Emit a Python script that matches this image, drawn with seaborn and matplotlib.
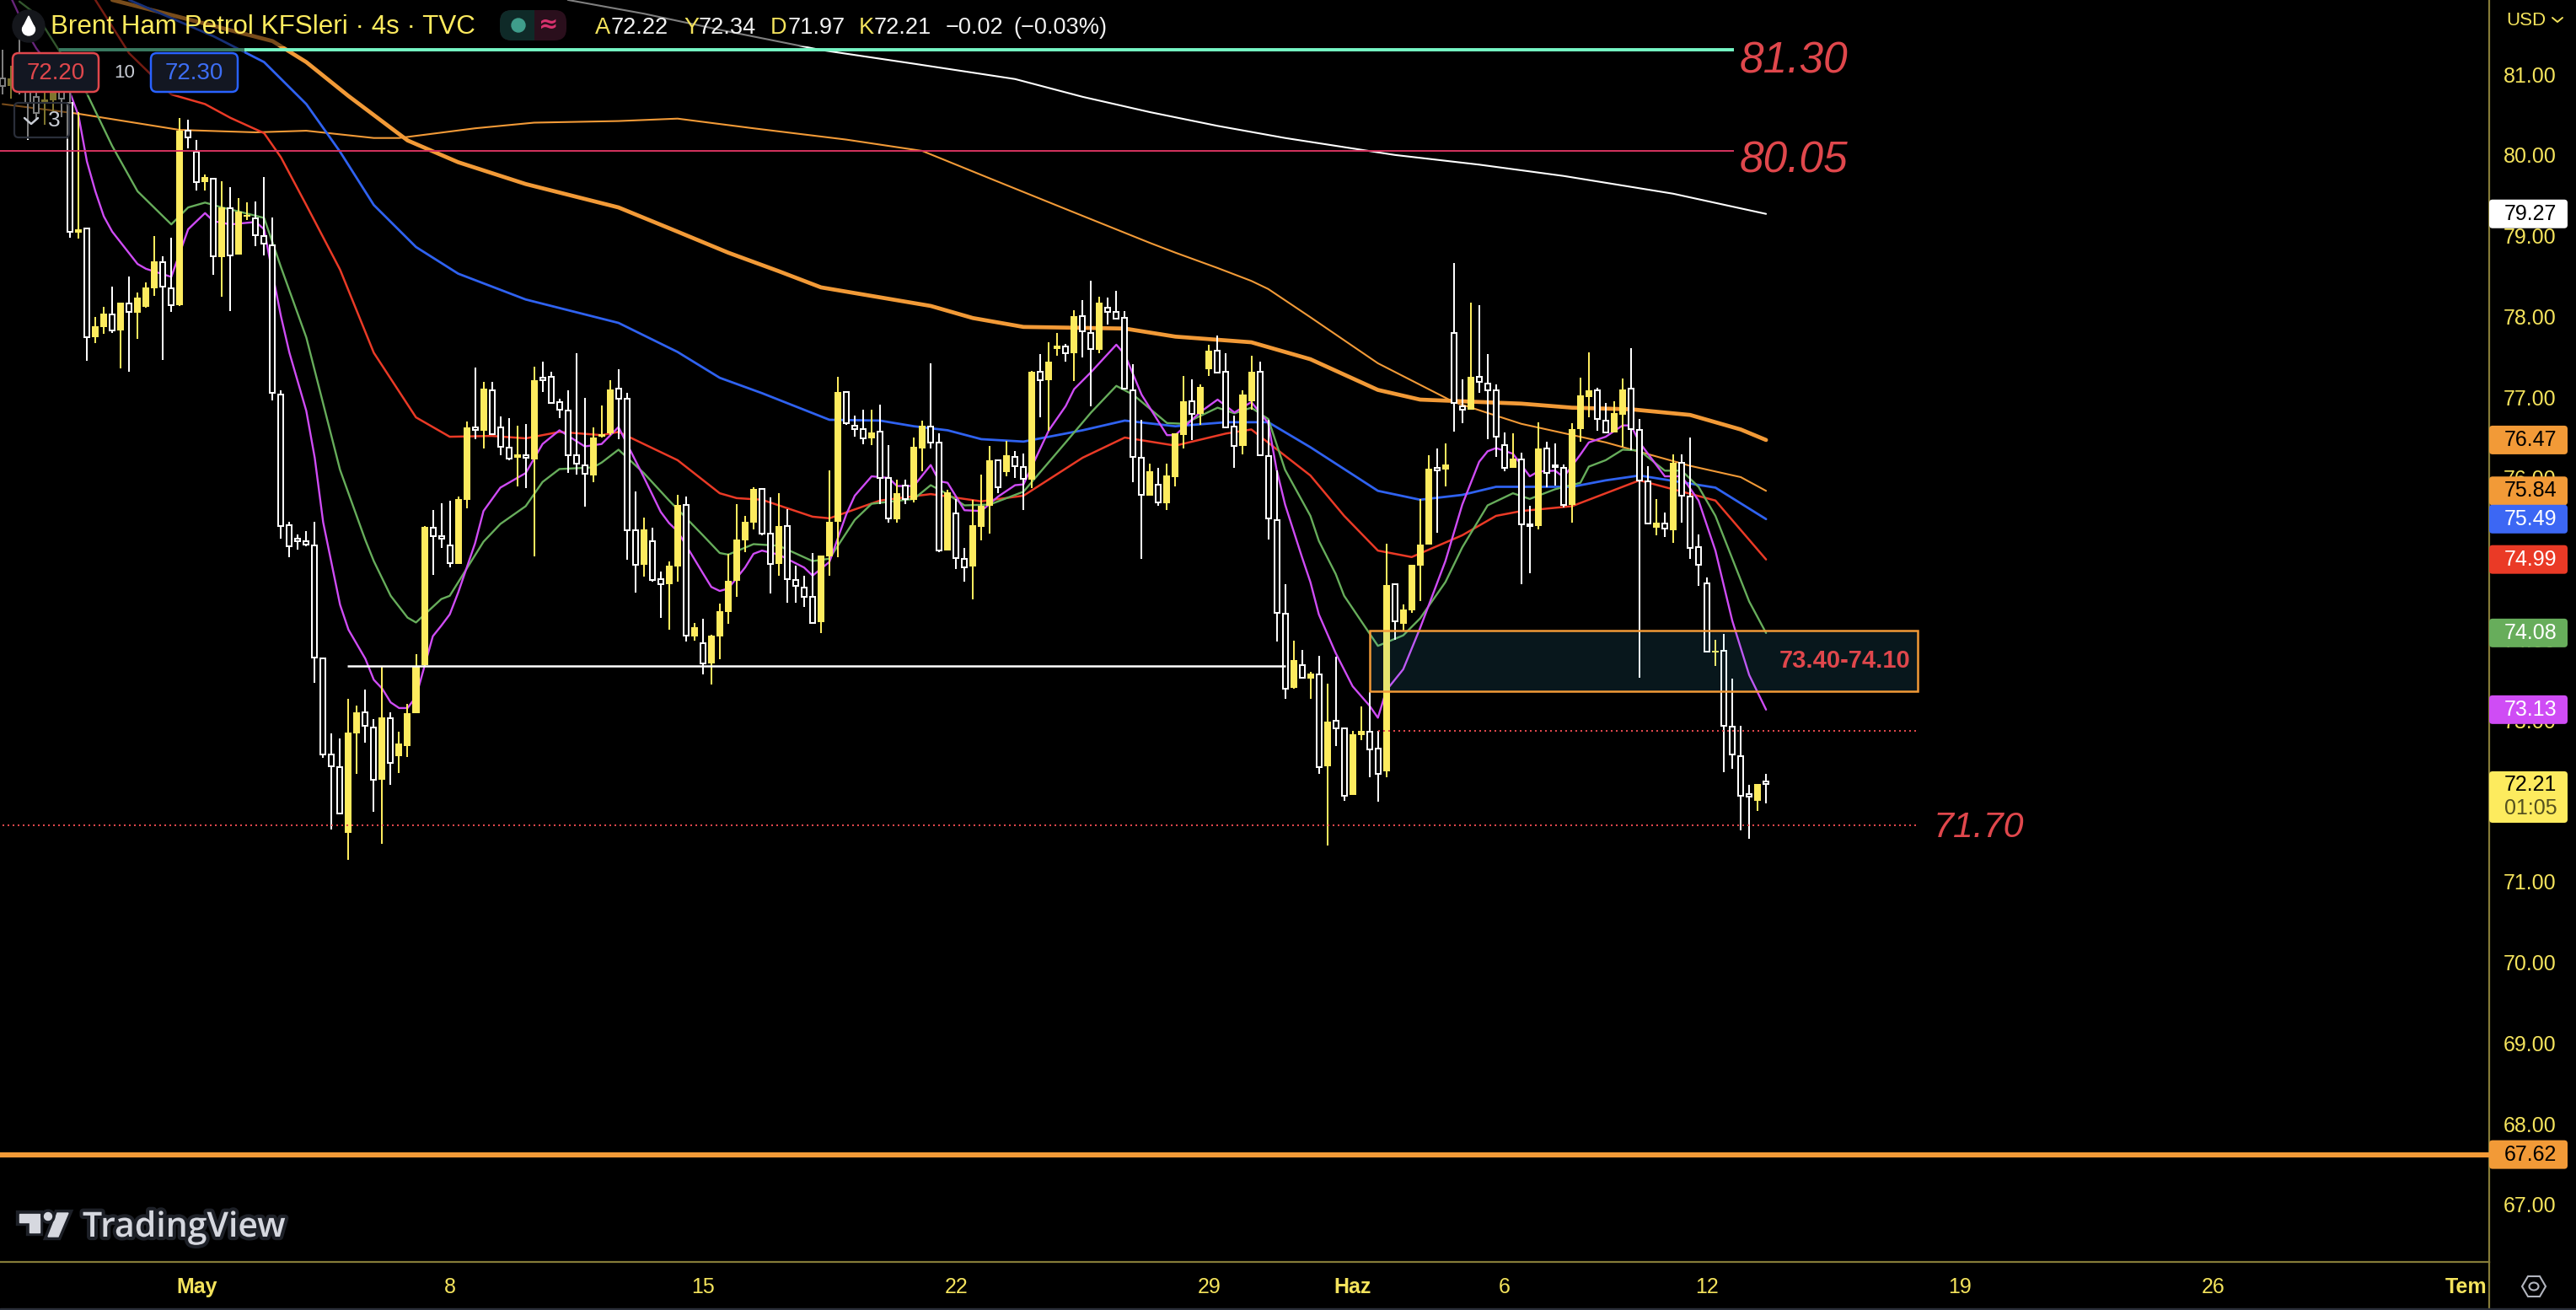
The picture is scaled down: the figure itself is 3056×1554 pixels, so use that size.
"""Brent 4h candle chart, TradingView dark style."""

import numpy as np
import pandas as pd
import matplotlib
matplotlib.use('Agg')
import matplotlib.pyplot as plt
from matplotlib.patches import FancyBboxPatch, Rectangle, Circle, Polygon, Ellipse
import matplotlib.patheffects as pe
import seaborn as sns

# candles, one value per 4h bar
opens = [
    80.95, 80.85, 81.10, 80.85, 80.72, 80.65, 80.68, 80.85, 80.65, 79.04,
    79.09, 77.74, 77.87, 78.03, 77.83, 78.16, 78.05, 78.12, 78.35, 78.67,
    78.35, 78.14, 80.30, 80.04, 79.66, 79.71, 78.73, 79.34, 78.77, 79.24,
    79.21, 79.00, 78.88, 77.03, 75.41, 75.24, 75.22, 75.16, 73.77, 72.57,
    72.42, 71.60, 72.84, 73.10, 72.91, 72.26, 73.02, 72.55, 72.68, 73.09,
    73.68, 75.38, 75.28, 75.16, 74.93, 75.73, 76.63, 76.58, 77.09, 76.63,
    76.38, 76.25, 76.27, 76.23, 77.23, 77.25, 76.94, 76.83, 76.28, 76.16,
    76.03, 76.51, 76.55, 77.11, 76.98, 75.35, 74.92, 75.22, 74.75, 74.68,
    74.90, 75.67, 74.04, 73.95, 73.70, 74.04, 74.34, 74.73, 75.23, 75.45,
    75.86, 75.31, 74.93, 75.40, 74.74, 74.64, 74.53, 74.21, 75.03, 75.46,
    77.06, 76.65, 76.60, 76.49, 76.57, 76.00, 75.49, 75.91, 75.73, 76.37,
    76.64, 76.44, 75.10, 75.56, 75.00, 74.90, 75.39, 75.66, 76.22, 76.07,
    76.26, 76.14, 75.98, 77.32, 77.21, 77.60, 77.63, 77.54, 78.00, 77.80,
    77.59, 78.11, 78.06, 77.98, 77.09, 76.25, 75.78, 75.92, 75.69, 76.01,
    76.53, 76.95, 76.79, 77.35, 77.58, 77.31, 76.64, 76.40, 76.95, 77.32,
    76.27, 75.48, 74.32, 73.40, 73.68, 73.51, 73.57, 72.43, 72.99, 72.90,
    72.07, 72.82, 72.86, 72.65, 72.37, 74.68, 74.19, 74.36, 74.91, 75.17,
    76.11, 76.10, 77.79, 76.89, 76.84, 77.25, 77.17, 77.08, 76.41, 76.12,
    76.23, 75.42, 75.40, 76.36, 76.15, 76.12, 75.67, 76.60, 77.00, 77.09,
    76.71, 76.56, 76.78, 77.11, 76.59, 75.96, 75.38, 75.44, 75.35, 76.19,
    75.77, 75.14, 74.69, 73.84, 73.86, 72.92, 72.55, 72.06, 72.00, 72.22,
]
closes = [
    80.85, 80.95, 80.80, 80.65, 80.52, 80.69, 80.77, 80.70, 79.05, 79.08,
    77.74, 77.88, 78.04, 77.83, 78.17, 78.06, 78.23, 78.36, 78.68, 78.37,
    78.14, 80.30, 80.22, 79.66, 79.73, 78.75, 79.35, 78.76, 79.30, 79.26,
    79.01, 78.90, 77.05, 75.40, 75.15, 75.22, 75.17, 73.78, 72.57, 72.43,
    71.84, 72.85, 73.10, 72.93, 72.26, 73.03, 72.47, 72.71, 73.09, 73.67,
    75.39, 75.28, 75.25, 74.94, 75.74, 76.63, 76.59, 77.11, 76.54, 76.39,
    76.24, 76.29, 76.25, 77.21, 77.21, 76.93, 76.85, 76.28, 76.18, 76.05,
    76.50, 76.54, 77.10, 76.98, 75.35, 74.92, 75.36, 74.74, 74.68, 74.91,
    75.67, 74.05, 74.15, 73.70, 74.05, 74.35, 74.73, 75.24, 75.46, 75.86,
    75.31, 74.93, 75.40, 74.75, 74.66, 74.53, 74.20, 75.04, 75.46, 77.06,
    76.68, 76.61, 76.49, 76.56, 76.00, 75.50, 75.81, 75.74, 76.39, 76.65,
    76.44, 75.10, 75.82, 75.01, 74.89, 75.41, 75.66, 76.22, 75.88, 76.28,
    76.15, 75.99, 77.31, 77.21, 77.44, 77.64, 77.54, 78.00, 77.82, 77.60,
    78.17, 78.06, 77.97, 77.11, 76.26, 75.79, 76.08, 75.70, 76.03, 76.55,
    76.95, 76.79, 77.13, 77.58, 77.30, 76.63, 76.40, 77.03, 77.31, 76.28,
    75.50, 74.33, 73.39, 73.74, 73.53, 73.58, 72.42, 72.98, 72.90, 72.06,
    72.83, 72.87, 72.64, 72.33, 74.67, 74.22, 74.37, 74.92, 75.17, 76.11,
    76.09, 76.17, 76.93, 76.85, 77.25, 77.19, 77.09, 76.51, 76.12, 76.24,
    75.42, 75.40, 76.37, 76.06, 76.13, 75.67, 76.61, 77.02, 77.09, 76.73,
    76.56, 76.80, 77.10, 76.61, 75.97, 75.44, 75.45, 75.37, 76.19, 75.78,
    75.13, 74.92, 73.85, 73.86, 72.93, 72.57, 72.06, 72.05, 72.21, 72.21,
]
highs = [
    81.30, 81.10, 81.70, 81.10, 80.85, 80.90, 80.95, 81.00, 81.00, 80.53,
    79.09, 77.99, 78.12, 78.37, 78.17, 78.49, 78.30, 78.42, 79.00, 78.75,
    78.98, 80.46, 80.44, 80.19, 79.76, 79.71, 79.67, 79.60, 79.47, 79.41,
    79.42, 79.73, 79.23, 77.08, 75.46, 75.30, 75.34, 75.46, 73.78, 72.84,
    72.77, 73.26, 73.18, 73.38, 73.01, 73.66, 73.10, 72.86, 73.20, 73.82,
    75.40, 75.60, 75.69, 75.72, 75.77, 76.70, 77.37, 77.19, 77.19, 76.76,
    76.74, 76.65, 76.67, 77.38, 77.44, 77.31, 76.98, 77.08, 77.54, 76.99,
    76.63, 76.90, 77.21, 77.35, 77.05, 75.83, 75.51, 75.38, 74.84, 74.97,
    75.79, 75.77, 74.20, 74.26, 74.06, 74.44, 75.06, 75.68, 75.53, 75.88,
    75.86, 75.76, 75.81, 75.61, 74.91, 74.79, 75.07, 75.04, 76.09, 77.25,
    77.06, 76.77, 76.84, 76.85, 76.91, 76.41, 75.98, 75.98, 76.50, 76.71,
    77.42, 76.55, 75.85, 75.74, 75.13, 75.73, 76.04, 76.40, 76.22, 76.46,
    76.33, 76.30, 77.33, 77.53, 77.68, 77.80, 77.66, 78.08, 78.20, 78.44,
    78.24, 78.23, 78.32, 78.07, 77.41, 76.72, 76.18, 76.12, 76.18, 76.55,
    77.26, 77.22, 77.16, 77.65, 77.76, 77.54, 76.77, 77.08, 77.51, 77.44,
    76.72, 76.09, 74.68, 73.98, 73.87, 73.60, 73.80, 73.45, 73.79, 72.91,
    72.87, 73.17, 73.35, 72.87, 75.18, 74.68, 74.43, 74.92, 75.74, 76.28,
    76.37, 76.43, 78.66, 77.22, 78.17, 78.14, 77.53, 77.16, 76.56, 76.55,
    76.31, 75.66, 76.69, 76.45, 76.43, 76.17, 76.68, 77.24, 77.56, 77.12,
    76.93, 76.95, 77.23, 77.61, 76.73, 76.15, 75.74, 75.57, 76.29, 76.29,
    76.50, 75.30, 74.77, 73.99, 74.07, 73.51, 72.93, 72.20, 72.21, 72.34,
]
lows = [
    80.75, 80.70, 80.75, 80.19, 80.45, 80.37, 80.54, 80.47, 78.98, 78.96,
    77.45, 77.67, 77.78, 77.80, 77.36, 77.32, 77.72, 78.11, 78.25, 77.46,
    78.06, 78.13, 80.08, 79.56, 79.56, 78.52, 78.24, 78.07, 78.77, 79.19,
    78.87, 78.76, 76.96, 75.25, 75.02, 75.11, 75.15, 73.46, 72.53, 71.65,
    71.84, 71.27, 72.33, 72.72, 71.86, 71.47, 72.20, 72.35, 72.54, 73.09,
    73.67, 74.80, 75.13, 74.89, 74.93, 75.62, 76.48, 76.36, 76.53, 76.28,
    76.22, 75.89, 75.87, 75.03, 77.06, 76.92, 76.74, 76.06, 76.04, 75.64,
    75.95, 76.50, 76.53, 76.48, 74.99, 74.58, 74.78, 74.72, 74.27, 74.12,
    74.72, 73.97, 73.98, 73.57, 73.44, 73.75, 74.19, 74.53, 75.08, 75.36,
    75.29, 74.57, 74.79, 74.45, 74.45, 74.40, 74.20, 74.08, 74.79, 75.02,
    76.66, 76.51, 76.42, 76.41, 75.68, 75.45, 75.45, 75.68, 75.70, 76.08,
    76.37, 75.08, 75.10, 74.87, 74.72, 74.50, 75.23, 75.31, 75.81, 76.02,
    76.00, 75.60, 75.87, 76.75, 76.58, 77.51, 77.44, 77.20, 77.49, 76.89,
    77.54, 77.90, 77.97, 77.11, 75.95, 75.00, 75.78, 75.65, 75.60, 75.89,
    76.37, 76.47, 76.66, 77.26, 77.30, 76.62, 76.12, 76.29, 76.85, 76.28,
    75.24, 73.97, 73.26, 73.39, 73.51, 73.26, 72.34, 71.45, 72.68, 72.00,
    72.07, 72.75, 72.29, 71.99, 72.29, 74.00, 74.11, 74.33, 74.48, 75.17,
    75.32, 75.89, 76.57, 76.68, 76.84, 77.05, 76.48, 76.26, 76.08, 76.12,
    74.68, 74.82, 75.36, 75.88, 75.91, 75.63, 75.45, 76.45, 76.75, 76.58,
    76.56, 76.56, 76.39, 76.34, 73.52, 75.44, 75.29, 75.27, 75.20, 75.45,
    75.00, 74.66, 73.84, 73.67, 72.36, 72.40, 71.64, 71.53, 71.88, 71.97,
]

# moving averages, read at the bars where the line bends
white_bars = [67, 76, 85, 97, 108, 120, 128, 136, 144, 152, 165, 175, 185, 198, 209]
white_ma = [81.92, 81.75, 81.55, 81.30, 81.13, 80.94, 80.72, 80.53, 80.36, 80.21, 80.00,
            79.88, 79.74, 79.52, 79.27]

thin_bars = [0, 9, 21, 30, 36, 44, 47, 56, 63, 73, 80, 89, 100, 109, 117, 126, 136, 139,
             144, 148, 150, 155, 163, 172, 180, 190, 200, 206, 209]
thin_ma = [80.63, 80.51, 80.31, 80.28, 80.30, 80.21, 80.21, 80.33, 80.40, 80.42, 80.45,
           80.33, 80.19, 80.05, 79.71, 79.33, 78.91, 78.79, 78.60, 78.44, 78.34, 77.99,
           77.42, 76.94, 76.67, 76.44, 76.15, 76.01, 75.84]

thick_bars = [13, 22, 32, 36, 41, 48, 54, 62, 73, 80, 86, 92, 97, 110, 115, 121, 133,
              139, 148, 155, 163, 168, 180, 186, 193, 200, 206, 209]
thick_ma = [81.92, 81.68, 81.41, 81.15, 80.73, 80.18, 79.91, 79.64, 79.35, 79.05, 78.79,
            78.56, 78.36, 78.13, 77.98, 77.87, 77.85, 77.75, 77.68, 77.47, 77.09, 76.97,
            76.92, 76.87, 76.85, 76.78, 76.60, 76.47]

blue_bars = [15, 25, 31, 36, 40, 44, 49, 54, 62, 73, 80, 85, 90, 98, 104, 108, 112, 116,
             121, 128, 133, 139, 145, 150, 155, 163, 168, 173, 177, 186, 190, 194, 203, 209]
blue_ma = [81.92, 81.47, 81.15, 80.63, 80.04, 79.38, 78.86, 78.53, 78.21, 77.92, 77.56,
           77.24, 77.05, 76.72, 76.71, 76.64, 76.59, 76.48, 76.45, 76.59, 76.71, 76.64,
           76.69, 76.69, 76.38, 75.84, 75.73, 75.79, 75.89, 75.89, 75.97, 76.03, 75.88, 75.49]

red_bars = [11, 15, 20, 24, 27, 31, 33, 36, 40, 44, 49, 53, 58, 62, 66, 71, 73, 76, 80,
            85, 87, 90, 96, 98, 104, 110, 116, 121, 128, 133, 139, 145, 148, 155, 159,
            163, 167, 173, 177, 180, 186, 190, 194, 203, 209]
red_ma = [81.92, 81.26, 80.75, 80.63, 80.46, 80.27, 79.97, 79.38, 78.58, 77.55, 76.75,
          76.51, 76.52, 76.49, 76.57, 76.53, 76.57, 76.42, 76.22, 75.81, 75.75, 75.73,
          75.52, 75.50, 75.72, 75.80, 75.71, 75.78, 76.25, 76.50, 76.40, 76.55, 76.60,
          76.03, 75.53, 75.10, 75.02, 75.29, 75.53, 75.59, 75.65, 75.81, 75.97, 75.72, 74.99]

green_bars = [2, 4, 8, 10, 13, 16, 20, 22, 24, 26, 28, 31, 33, 36, 40, 43, 44, 46, 48, 49,
              52, 53, 57, 59, 62, 64, 66, 70, 71, 73, 76, 79, 83, 85, 86, 89, 92, 96, 98,
              101, 103, 108, 110, 112, 114, 117, 121, 126, 129, 132, 134, 138, 140, 144,
              146, 148, 150, 152, 155, 156, 158, 159, 163, 166, 168, 171, 173, 176, 179,
              181, 184, 187, 188, 190, 192, 194, 197, 199, 201, 203, 205, 207, 209]
green_ma = [81.90, 81.74, 81.08, 80.76, 80.11, 79.55, 79.14, 79.35, 79.41, 79.35, 79.30,
            79.22, 78.61, 77.74, 76.10, 75.23, 74.97, 74.54, 74.27, 74.21, 74.50, 74.54,
            75.21, 75.43, 75.65, 75.95, 76.11, 76.13, 76.19, 76.35, 76.06, 75.72, 75.29,
            75.07, 75.05, 75.18, 75.16, 74.97, 75.00, 75.48, 75.68, 75.74, 75.91, 75.80,
            75.66, 75.67, 75.83, 76.44, 76.81, 77.14, 77.03, 76.68, 76.67, 76.87, 76.80,
            76.87, 76.73, 76.10, 75.53, 75.22, 74.81, 74.54, 73.92, 74.05, 74.26, 74.71,
            75.14, 75.66, 75.81, 75.74, 75.86, 75.94, 76.14, 76.22, 76.35, 76.34, 76.09,
            76.09, 75.89, 75.53, 75.00, 74.47, 74.08]

purple_bars = [1, 3, 4, 6, 8, 9, 10, 11, 12, 13, 16, 17, 20, 22, 24, 25, 27, 30, 31, 32, 33,
               34, 36, 37, 38, 40, 41, 43, 44, 45, 46, 47, 48, 49, 51, 52, 53, 54, 56, 57,
               59, 62, 64, 66, 69, 71, 73, 76, 78, 79, 80, 83, 84, 85, 86, 88, 89, 90, 92,
               95, 96, 98, 100, 101, 103, 105, 106, 108, 110, 111, 112, 114, 116, 118, 120,
               121, 124, 126, 127, 129, 132, 133, 135, 138, 139, 142, 144, 146, 148, 150,
               151, 152, 154, 155, 156, 158, 160, 162, 163, 164, 166, 168, 171, 173, 175,
               176, 177, 179, 181, 182, 184, 185, 187, 188, 190, 192, 193, 194, 197, 199,
               201, 203, 205, 207, 209]
purple_ma = [81.95, 81.50, 81.32, 81.05, 80.77, 80.49, 79.92, 79.55, 79.24, 79.05, 78.65,
             78.59, 78.49, 79.08, 79.28, 79.18, 79.14, 79.17, 79.08, 78.53, 78.00, 77.55,
             76.83, 76.25, 75.45, 74.43, 74.12, 73.76, 73.50, 73.39, 73.22, 73.15, 73.15,
             73.29, 74.04, 74.17, 74.31, 74.58, 75.19, 75.59, 75.88, 76.06, 76.42, 76.59,
             76.39, 76.42, 76.63, 76.01, 75.58, 75.44, 75.34, 74.82, 74.65, 74.60, 74.63,
             74.89, 75.06, 75.10, 75.05, 74.89, 74.79, 74.96, 75.55, 75.78, 76.02, 76.00,
             75.90, 75.90, 76.16, 75.96, 75.94, 75.60, 75.59, 75.77, 75.91, 75.92, 76.59,
             76.89, 77.10, 77.31, 77.65, 77.53, 77.03, 76.53, 76.53, 76.82, 76.97, 76.81,
             76.94, 76.68, 76.10, 75.67, 75.02, 74.71, 74.31, 73.83, 73.42, 73.18, 73.03,
             73.37, 73.63, 74.14, 74.97, 75.67, 76.20, 76.33, 76.37, 76.30, 76.02, 76.08,
             76.09, 76.01, 76.29, 76.44, 76.51, 76.65, 76.65, 76.44, 76.02, 76.02, 75.72,
             75.10, 74.23, 73.56, 73.13]

# drawn levels
level_8130 = 81.30
level_8005 = 80.05
level_7367 = 73.67
level_7287 = 72.87
level_7170 = 71.70
level_6762 = 67.62
zone_low = 73.36
zone_high = 74.11

y_ticks = [67, 68, 69, 70, 71, 72, 73, 74, 75, 76, 77, 78, 79, 80, 81]
x_tick_bars = [23, 53, 83, 113, 143, 160, 178, 202, 232, 262, 292]
x_tick_labels = ['May', '8', '15', '22', '29', 'Haz', '6', '12', '19', '26', 'Tem']
x_tick_bold = ['May', 'Haz', 'Tem']

label_values = [79.27, 76.47, 75.84, 75.49, 74.99, 74.08, 73.13, 67.62]
label_colors = ['#ffffff', '#f29a37', '#f29a37', '#3c67f4', '#ea3a26', '#67ad5b', '#cf4cf5', '#f29a37']
label_text = ['#000000', '#000000', '#000000', '#ffffff', '#ffffff', '#ffffff', '#ffffff', '#000000']

YELLOW = '#fdeb5e'
TICK = '#f4e35c'
AXIS = '#857b38'
RED = '#e0474c'
FONT = 'Liberation Sans'

sns.set_theme(style='dark', rc={'axes.facecolor': 'black', 'figure.facecolor': 'black', 'axes.grid': False})
plt.rcParams['font.family'] = [FONT, 'DejaVu Sans']

fig = plt.figure(figsize=(30.56, 15.54), dpi=100)
ax = fig.add_axes([0, 1 - 1497 / 1554, 2953 / 3056, 1497 / 1554])
ax.set_facecolor('black')

for bars, vals, color, lw, z in [
    (white_bars, white_ma, '#ffffff', 1.5, 2),
    (thin_bars, thin_ma, '#f29a37', 1.5, 2),
    (thick_bars, thick_ma, '#f29a37', 3.4, 2),
    (blue_bars, blue_ma, '#2f62f0', 2.0, 2),
    (red_bars, red_ma, '#ea3a26', 1.8, 2),
    (green_bars, green_ma, '#67ad5b', 1.7, 2),
    (purple_bars, purple_ma, '#cf4cf5', 1.7, 2),
]:
    sns.lineplot(x=bars, y=vals, color=color, linewidth=lw, estimator=None, sort=False,
                 ax=ax, zorder=z)

candles = pd.DataFrame({'open': opens, 'high': highs, 'low': lows, 'close': closes})
candles['bar'] = candles.index
up = candles[candles['close'] > candles['open']]
down = candles[candles['close'] <= candles['open']]

ax.vlines(down['bar'], down['low'], down['high'], color='white', lw=1.44, zorder=3)
ax.vlines(up['bar'], up['low'], up['high'], color=YELLOW, lw=1.44, zorder=3)
ax.bar(down['bar'], (down['open'] - down['close']).clip(lower=0.03), bottom=down['close'], width=0.6,
       facecolor='black', edgecolor='white', linewidth=1.44, zorder=4)
ax.bar(up['bar'], up['close'] - up['open'], bottom=up['open'], width=0.8,
       color=YELLOW, linewidth=0, zorder=4)

# levels and zone
ax.hlines(level_8130, 6.7, 205.2, color='#76f7c5', lw=2.8, zorder=5)
ax.hlines(level_8005, -1, 205.2, color='#d6335f', lw=1.4, zorder=5)
ax.hlines(level_7367, 40.9, 152, color='white', lw=1.8, zorder=5)
ax.hlines(level_7287, 163, 227, color=RED, lw=1.44, linestyles=(0, (1, 2)), zorder=5)
ax.hlines(level_7170, 0, 227, color=RED, lw=1.44, linestyles=(0, (1, 2)), zorder=5)
ax.hlines(level_6762, -1, 295, color='#f29a37', lw=4.4, zorder=5)
ax.add_patch(Rectangle((162, zone_low), 65, zone_high - zone_low, facecolor=(0.26, 0.75, 0.91, 0.12),
                       edgecolor='#f29a37', lw=1.8, zorder=6))

# level captions sit a little below their lines
ax.text(205.9, 81.157, '81.30', color=RED, fontsize=37, style='italic', va='center', ha='left', zorder=7)
ax.text(205.9, 79.92, '80.05', color=RED, fontsize=37, style='italic', va='center', ha='left', zorder=7)
ax.text(228.8, 71.67, '71.70', color=RED, fontsize=31, style='italic', va='center', ha='left', zorder=7)
ax.text(226.1, (zone_low + zone_high) / 2, '73.40-74.10', color=RED, fontsize=21, fontweight='bold',
        va='center', ha='right', zorder=7)

# price scale on the right, dates at the bottom
ax.set_xlim(-0.3, 294.7)
ax.set_ylim(66.29, 81.919)
ax.yaxis.tick_right()
ax.set_yticks(y_ticks)
ax.set_yticklabels([f'{t:.2f}' for t in y_ticks], color=TICK, fontsize=18)
ax.set_xticks(x_tick_bars)
ax.set_xticklabels(x_tick_labels, color=TICK, fontsize=18)
for lab in ax.get_xticklabels():
    if lab.get_text() in x_tick_bold:
        lab.set_fontweight('bold')
ax.tick_params(axis='y', length=0, pad=12)
ax.tick_params(axis='x', length=0, pad=13)
ax.set_xlabel('')
ax.set_ylabel('')
for side in ['top', 'left']:
    ax.spines[side].set_visible(False)
for side in ['right', 'bottom']:
    ax.spines[side].set_color(AXIS)
    ax.spines[side].set_linewidth(1.6)
    ax.spines[side].set_visible(True)

# chrome in figure pixels
ui = fig.add_axes([0, 0, 1, 1])
ui.set_xlim(0, 3056)
ui.set_ylim(1554, 0)
ui.axis('off')
ui.patch.set_alpha(0)


def price_y(p):
    return 1554 - ax.transData.transform((0, p))[1]


def round_box(x0, y0, x1, y1, face, edge='none', lw=0, r=5, z=10):
    ui.add_patch(FancyBboxPatch((x0 + r, y0 + r), x1 - x0 - 2 * r, y1 - y0 - 2 * r,
                                boxstyle=f'round,pad={r},rounding_size={r}',
                                facecolor=face, edgecolor=edge, lw=lw, zorder=z))


# axis extends to the bottom edge
ui.plot([2953, 2953], [1497, 1552], color=AXIS, lw=1.6, zorder=1)
ui.add_patch(Rectangle((0, 1552), 3056, 2, color='#2a2e39', zorder=1))

# dim layer behind the legend rows
for x0, y0, x1, y1 in [(0, 0, 1325, 55), (0, 55, 290, 113), (0, 113, 85, 165)]:
    ui.add_patch(Rectangle((x0, y0), x1 - x0, y1 - y0, color='black', alpha=0.5, lw=0, zorder=2))

# drop icon
ui.add_patch(Circle((34, 31), 19, color='#15171c', zorder=10))
ui.add_patch(Ellipse((34, 35), 15, 14, color='white', zorder=11))
ui.add_patch(Polygon([(27, 33), (41, 33), (34, 19)], color='white', zorder=11))
ui.text(60, 32, 'Brent Ham Petrol KFSleri · 4s · TVC', color=YELLOW, fontsize=22.6, va='center', ha='left', zorder=11)

# status pill
round_box(593, 12, 672, 48, '#2a0f1c', r=14)
round_box(593, 12, 634, 48, '#0f2a28', r=14)
ui.add_patch(Rectangle((620, 12), 14, 36, color='#0f2a28', lw=0, zorder=10))
ui.add_patch(Circle((615, 30), 8, color='#3f9d8b', zorder=11))
ui.text(651, 29, '≈', color='#d8326e', fontsize=20, fontweight='bold', ha='center', va='center',
        family='DejaVu Sans', zorder=11)

# ohlc readout
for x, s, col in [(706, 'A', TICK), (725, '72.22', '#f2f2f2'), (811, 'Y', TICK), (829, '72.34', '#f2f2f2'),
                  (914, 'D', TICK), (935, '71.97', '#f2f2f2'), (1019, 'K', TICK), (1037, '72.21', '#f2f2f2'),
                  (1122, '−0.02', '#f2f2f2'), (1202, '(−0.03%)', '#f2f2f2')]:
    ui.text(x, 33, s, color=col, fontsize=19.5, va='center', ha='left', zorder=11)

# sell / buy buttons
round_box(15, 63, 117, 109, '#131722', edge=RED, lw=1.8, r=7)
ui.text(66, 87, '72.20', color=RED, fontsize=20, ha='center', va='center', zorder=11)
ui.text(148, 87, '10', color='#c8ccd4', fontsize=16, ha='center', va='center', zorder=11)
round_box(179, 63, 282, 109, '#131722', edge='#2962ff', lw=1.8, r=7)
ui.text(230, 87, '72.30', color='#3d6ef5', fontsize=20, ha='center', va='center', zorder=11)
round_box(17, 122, 82, 163, (0, 0, 0, 0), edge='#2a2e39', lw=1.6, r=5)
ui.plot([29, 37, 45], [140, 147, 140], color='#c8ccd4', lw=1.8, zorder=11)
ui.text(64, 143, '3', color='#c8ccd4', fontsize=19, ha='center', va='center', zorder=11)

# USD selector
ui.text(2973, 25, 'USD', color=TICK, fontsize=16, ha='left', va='center', zorder=11)
ui.plot([3028, 3034, 3040], [21, 26, 21], color=TICK, lw=1.4, zorder=11)

# price tags on the axis
for val, col, tcol in zip(label_values, label_colors, label_text):
    y = price_y(val)
    round_box(2953, y - 17, 3046, y + 17, col, r=4, z=12)
    ui.text(3002, y, f'{val:.2f}', color=tcol, fontsize=18, ha='center', va='center', zorder=13)
round_box(2953, 915, 3046, 976, YELLOW, r=4, z=12)
ui.text(3002, 931, f'{closes[-1]:.2f}', color='black', fontsize=18, ha='center', va='center', zorder=13)
ui.text(3002, 959, '01:05', color='#54501f', fontsize=18, ha='center', va='center', zorder=13)

# settings hexagon
ui.add_patch(Polygon([(2992, 1526), (2999, 1514), (3013, 1514), (3020, 1526), (3013, 1538), (2999, 1538)],
                     closed=True, fill=False, edgecolor='#b2b5be', lw=1.5, zorder=11))
ui.add_patch(Ellipse((3006, 1526), 11, 9, fill=False, edgecolor='#b2b5be', lw=1.5, zorder=11))

# TradingView watermark
outline = [pe.withStroke(linewidth=6, foreground='#1d2027')]
logo = [
    Polygon([(23, 1440), (47, 1440), (47, 1462), (35, 1462), (35, 1450), (23, 1450)], color='#d6d8df', zorder=11),
    Polygon([(81, 1439), (69, 1467), (57, 1467), (68, 1439)], color='#d6d8df', zorder=11),
    Circle((57, 1443), 4.5, color='#d6d8df', zorder=11),
]
for p in logo:
    p.set_path_effects(outline)
    ui.add_patch(p)
ui.text(98, 1467, 'TradingView', color='#d6d8df', fontsize=29.5, fontweight='semibold', family='Open Sans',
        va='baseline', ha='left', zorder=11, path_effects=outline)

fig.savefig('out.png', dpi=100, facecolor='black')
